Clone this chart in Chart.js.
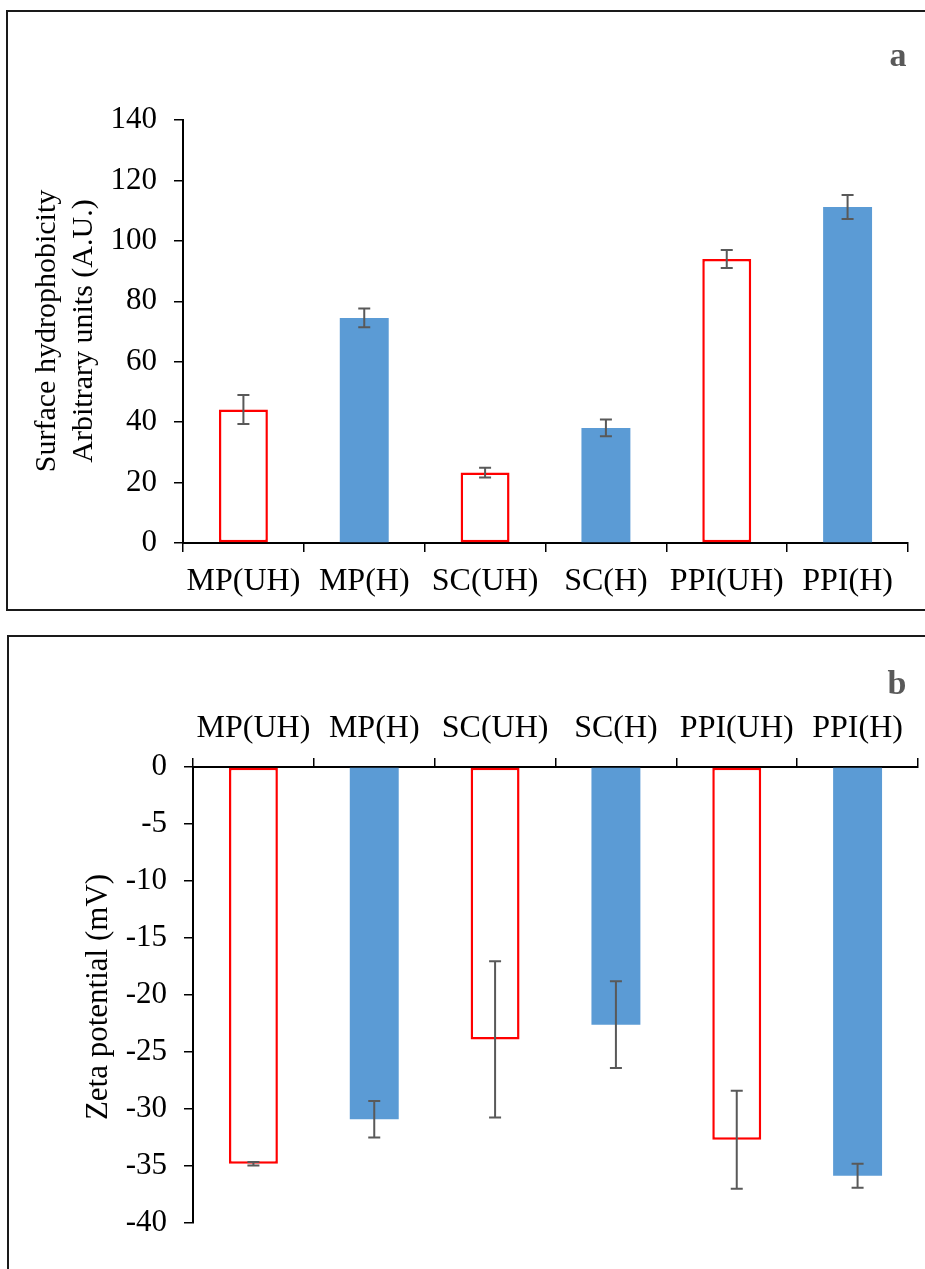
<!DOCTYPE html>
<html><head><meta charset="utf-8">
<script src="https://cdn.jsdelivr.net/npm/chart.js@4"></script>
<style>
html,body{margin:0;padding:0;background:#fff;width:925px;height:1269px;overflow:hidden;position:relative}
.frame{position:absolute;border:2px solid #1a1a1a;box-sizing:border-box}
.wrap{position:absolute}
canvas{display:block}
</style></head><body>
<div class="frame" style="left:6px;top:10px;width:1000px;height:601px"></div>
<div class="frame" style="left:7px;top:635px;width:1000px;height:700px"></div>
<div class="wrap" style="left:0;top:0;width:925px;height:620px"><canvas id="ca" width="925" height="620"></canvas></div>
<div class="wrap" style="left:0;top:630px;width:925px;height:639px"><canvas id="cb" width="925" height="639"></canvas></div>
<script>
// ---- data ----
const categories = ['MP(UH)', 'MP(H)', 'SC(UH)', 'SC(H)', 'PPI(UH)', 'PPI(H)'];
const heated = [false, true, false, true, false, true];
const hydrophobicity = [44.2, 74.5, 23.3, 38.1, 94.0, 111.2];
const hydrophobicityErr = [4.8, 3.1, 1.6, 2.8, 3.0, 4.0];
const zetaPotential = [-34.8, -30.9, -23.9, -22.6, -32.7, -35.85];
const zetaPotentialErr = [0.15, 1.6, 6.85, 3.8, 4.3, 1.05];
const panelLetters = ['a', 'b'];
const titleA = ['Surface hydrophobicity', 'Arbitrary units (A.U.)'];
const titleB = 'Zeta potential (mV)';

const FONT = '"Liberation Serif", "Times New Roman", serif';
const BLUE = '#5B9BD5';
const RED = '#FF0000';

const errorBars = {
  id: 'errorBars',
  afterDatasetsDraw(chart, args, opts) {
    const ctx = chart.ctx, xs = chart.scales.x, ys = chart.scales.y;
    const ds = chart.data.datasets[0];
    ctx.save();
    ctx.strokeStyle = '#595959';
    ctx.lineWidth = 2;
    ds.data.forEach((v, i) => {
      const e = opts.errors[i];
      const x = xs.getPixelForValue(i);
      const y1 = ys.getPixelForValue(v + e);
      const y2 = ys.getPixelForValue(v - e);
      ctx.beginPath();
      ctx.moveTo(x, y1); ctx.lineTo(x, y2);
      ctx.moveTo(x - 6, y1); ctx.lineTo(x + 6, y1);
      ctx.moveTo(x - 6, y2); ctx.lineTo(x + 6, y2);
      ctx.stroke();
    });
    ctx.restore();
  }
};

const texts = {
  id: 'texts',
  afterDraw(chart, args, opts) {
    const ctx = chart.ctx;
    ctx.save();
    ctx.fillStyle = '#595959';
    ctx.font = 'bold 34px ' + FONT;
    ctx.textAlign = 'center';
    ctx.textBaseline = 'alphabetic';
    ctx.fillText(opts.letter, opts.letterX, opts.letterY);
    ctx.fillStyle = '#000';
    ctx.font = opts.titleSize + 'px ' + FONT;
    ctx.translate(opts.titleX, opts.titleY);
    ctx.rotate(-Math.PI / 2);
    ctx.textAlign = 'center';
    ctx.textBaseline = 'middle';
    const lines = Array.isArray(opts.title) ? opts.title : [opts.title];
    lines.forEach((l, k) => ctx.fillText(l, 0, k * 37));
    ctx.restore();
  }
};

function makeChart(id, values, errs, cfg) {
  return new Chart(document.getElementById(id), {
    type: 'bar',
    data: {
      labels: categories,
      datasets: [{
        data: values,
        backgroundColor: heated.map(h => h ? BLUE : '#FFFFFF'),
        borderColor: heated.map(h => h ? BLUE : RED),
        borderWidth: heated.map(h => h ? 0 : 2.5),
        borderSkipped: false,
        categoryPercentage: 1,
        barPercentage: 0.405
      }]
    },
    options: {
      responsive: false,
      animation: false,
      events: [],
      layout: { padding: cfg.padding },
      plugins: {
        legend: { display: false },
        tooltip: { enabled: false },
        errorBars: { errors: errs },
        texts: cfg.texts
      },
      scales: {
        x: {
          position: cfg.xPos,
          offset: true,
          grid: { offset: true, drawOnChartArea: false, drawTicks: true, tickLength: 9, color: '#000', lineWidth: 1.5 },
          border: { display: true, color: '#000', width: 2 },
          ticks: { color: '#000', font: { family: FONT, size: 32 }, padding: cfg.xPad, maxRotation: 0, autoSkip: false },
          afterFit: s => { s.height = cfg.xHeight; }
        },
        y: {
          min: cfg.yMin, max: cfg.yMax,
          ticks: { stepSize: cfg.step, color: '#000', font: { family: FONT, size: 31 }, padding: 17 },
          grid: { drawOnChartArea: false, drawTicks: true, tickLength: 9, color: '#000', lineWidth: 1.5 },
          border: { display: true, color: '#000', width: 2 },
          afterFit: s => { s.width = cfg.yWidth; }
        }
      }
    },
    plugins: [errorBars, texts]
  });
}

makeChart('ca', hydrophobicity, hydrophobicityErr, {
  padding: { left: 0, right: 17, top: 120, bottom: 0 },
  xPos: 'bottom', xHeight: 77, xPad: 10, yWidth: 183,
  yMin: 0, yMax: 140, step: 20,
  texts: { letter: panelLetters[0], letterX: 898, letterY: 66, title: titleA, titleSize: 30, titleX: 47, titleY: 331 }
});

makeChart('cb', zetaPotential, zetaPotentialErr, {
  padding: { left: 0, right: 7, top: 0, bottom: 46 },
  xPos: 'top', xHeight: 137, xPad: 10, yWidth: 193,
  yMin: -40, yMax: 0, step: 5,
  texts: { letter: panelLetters[1], letterX: 897, letterY: 64, title: titleB, titleSize: 31, titleX: 99, titleY: 367 }
});
</script>
</body></html>
